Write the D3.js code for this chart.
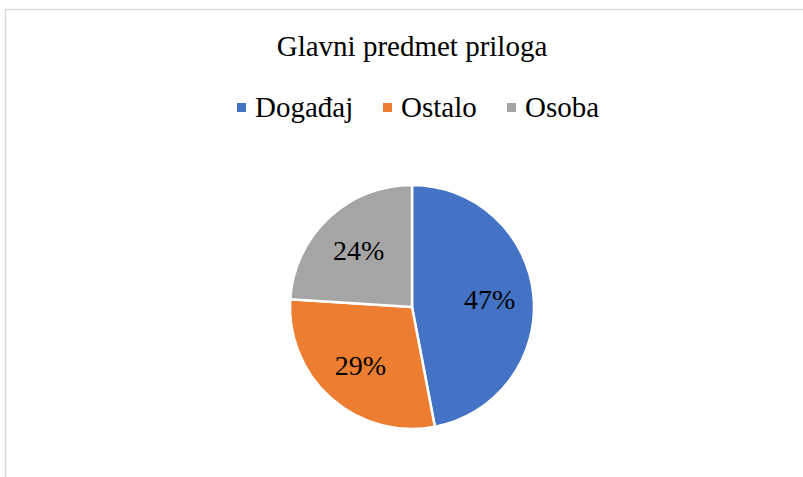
<!DOCTYPE html>
<html>
<head>
<meta charset="utf-8">
<script src="https://cdn.jsdelivr.net/npm/d3@7"></script>
<style>
  body { margin:0; background:#fff; }
  svg { display:block; font-family:"Liberation Serif","Times New Roman",serif; }
</style>
</head>
<body>
<svg id="chart"></svg>
<script>
const categories = ["Događaj","Ostalo","Osoba"];
const values = [47,29,24];
const labels = ["47%","29%","24%"];
const title = "Glavni predmet priloga";

const COLORS = ["#4472c4","#ed7d31","#a5a5a5"];

const W = 803;
const H = 477;

const svg = d3.select("#chart")
  .attr("width",W)
  .attr("height",H);

// chart area frame (only top and left are inside the crop)
svg.append("path")
  .attr("d",`M5.5,${H} V9.5 H${W}`)
  .attr("fill","none")
  .attr("stroke","#d9d9d9")
  .attr("stroke-width",1.5);

svg.append("text")
  .attr("x",412)
  .attr("y",56)
  .attr("text-anchor","middle")
  .attr("font-size",29)
  .attr("fill","#000")
  .text(title);

// legend
const legendX = [237,383,507];
const legend = svg.append("g");
categories.forEach((c,i)=>{
  legend.append("rect")
    .attr("x",legendX[i])
    .attr("y",103)
    .attr("width",9)
    .attr("height",9)
    .attr("fill",COLORS[i]);
  legend.append("text")
    .attr("x",legendX[i]+18)
    .attr("y",117)
    .attr("font-size",29)
    .attr("fill","#000")
    .text(c);
});

const cx = 412, cy = 307, R = 122;

const pie = d3.pie().sort(null).value(d=>d);
const arcs = pie(values);

const arc = d3.arc().innerRadius(0).outerRadius(R);
const labelArc = d3.arc().innerRadius(R*0.64).outerRadius(R*0.64);

const g = svg.append("g")
  .attr("transform",`translate(${cx},${cy})`);

g.selectAll(".slice")
  .data(arcs)
  .join("path")
  .attr("class","slice")
  .attr("d",arc)
  .attr("fill",(d,i)=>COLORS[i])
  .attr("stroke","#fff")
  .attr("stroke-width",2.5)
  .attr("stroke-linejoin","round");

g.selectAll(".lbl")
  .data(arcs)
  .join("text")
  .attr("class","lbl")
  .attr("x",d=>labelArc.centroid(d)[0])
  .attr("y",d=>labelArc.centroid(d)[1])
  .attr("dy","0.35em")
  .attr("text-anchor","middle")
  .attr("font-size",28)
  .attr("fill","#000")
  .text((d,i)=>labels[i]);
</script>
</body>
</html>
